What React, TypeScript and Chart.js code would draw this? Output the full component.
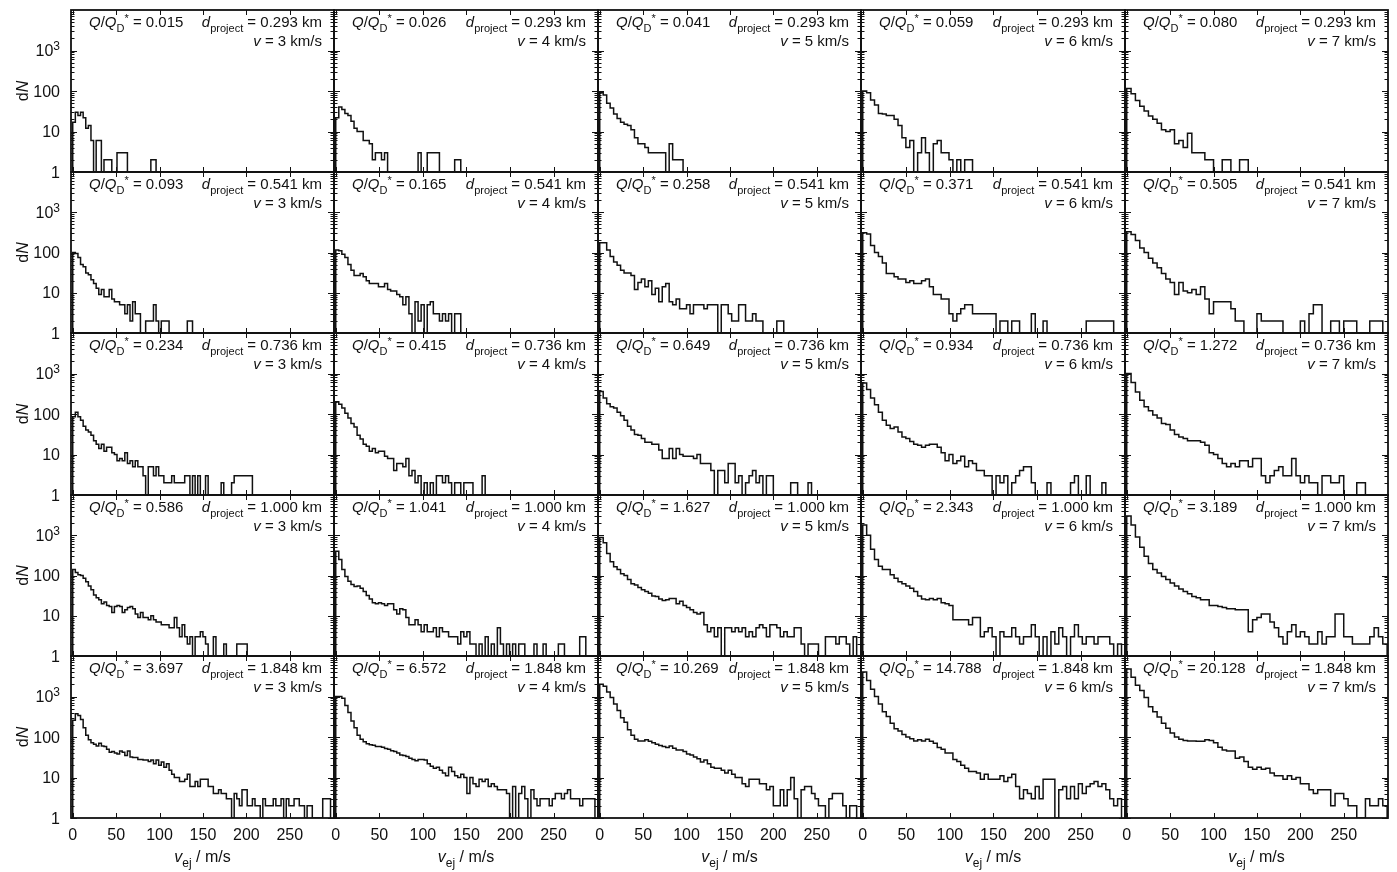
import React, { useEffect, useRef } from 'react';
import { Chart, registerables } from 'chart.js';

Chart.register(...registerables);

// ---- Ejecta velocity histograms: counts per velocity bin (first bin starts at 0 m/s) ----
// Row: projectile diameter, column: impact speed.
const IMPACT_SPEEDS = [3, 4, 5, 6, 7]; // km/s
const PROJECTILE_DIAMETERS = [0.293, 0.541, 0.736, 1.0, 1.848]; // km
const Q_RATIOS = [
  [0.015, 0.026, 0.041, 0.059, 0.08],
  [0.093, 0.165, 0.258, 0.371, 0.505],
  [0.234, 0.415, 0.649, 0.934, 1.272],
  [0.586, 1.041, 1.627, 2.343, 3.189],
  [3.697, 6.572, 10.269, 14.788, 20.128],
];
const BIN_WIDTHS = [3, 3.5, 4, 4.5, 5]; // m/s, per impact speed
const X_TICKS = [0, 50, 100, 150, 200, 250];
const Y_LABEL_TICKS = [1, 10, 100, 1000];
const X_MIN = -2;
const X_MAX = 301;
const Y_MIN = 1;
const Y_MAX = 10000;

// d = 0.293 km
const dN_d0293_v3 = [17, 30, 25, 30, 22, 12, 14, 6, 1, 6, 6, 1, 2, 2, 2, 1, 1, 3, 3, 3, 3, 1, 1, 1, 1, 1, 1, 1, 1, 1, 2, 2];
const dN_d0293_v4 = [22, 40, 35, 28, 25, 18, 12, 10, 10, 6, 6, 5, 2, 3, 3, 2, 3, 1, 1, 1, 1, 1, 1, 1, 1, 1, 1, 3, 1, 1, 3, 3, 3, 3, 1, 1, 1, 1, 1, 2, 2];
const dN_d0293_v5 = [90, 80, 50, 38, 27, 21, 17, 15, 14, 11, 7, 5, 5, 4, 3, 3, 3, 3, 3, 1, 5, 2, 2, 2];
const dN_d0293_v6 = [100, 90, 60, 45, 28, 27, 25, 25, 20, 14, 7, 4, 6, 1, 3, 7, 3, 1, 5, 6, 3, 3, 2, 1, 2, 1, 2, 2];
const dN_d0293_v7 = [115, 85, 58, 42, 32, 24, 20, 16, 11, 10, 11, 5, 6, 4, 9, 3, 3, 3, 2, 2, 1, 1, 2, 2, 1, 1, 2, 2];

// d = 0.541 km
const dN_d0541_v3 = [100, 95, 75, 50, 44, 31, 28, 21, 17, 13, 9, 12, 8, 8, 12, 7, 6, 6, 5, 5, 3, 5, 2, 6, 3, 3, 1, 1, 2, 2, 2, 5, 2, 1, 2, 2, 2, 1, 1, 1, 1, 1, 1, 1, 2, 2];
const dN_d0541_v4 = [115, 110, 90, 75, 50, 36, 27, 27, 30, 25, 20, 17, 17, 17, 14, 14, 17, 12, 11, 11, 9, 8, 5, 8, 3, 1, 6, 2, 5, 1, 5, 6, 3, 3, 2, 3, 2, 3, 1, 3, 3];
const dN_d0541_v5 = [175, 175, 115, 80, 58, 48, 36, 31, 31, 27, 12, 18, 22, 14, 20, 9, 13, 6, 14, 17, 6, 5, 7, 4, 4, 5, 3, 5, 5, 5, 4, 5, 5, 5, 1, 5, 5, 3, 2, 2, 5, 5, 2, 2, 3, 2, 2, 1, 1, 1, 1, 2, 2];
const dN_d0541_v6 = [310, 290, 150, 100, 80, 55, 30, 30, 25, 22, 22, 18, 20, 17, 17, 20, 22, 14, 9, 9, 7, 7, 3, 2, 3, 4, 5, 5, 3, 3, 3, 3, 3, 3, 1, 2, 2, 1, 2, 2, 1, 1, 1, 3, 1, 1, 2, 1, 1, 1, 1, 1, 1, 1, 1, 1, 1, 2, 2, 2, 2, 2, 2, 2];
const dN_d0541_v7 = [330, 280, 200, 130, 100, 72, 55, 42, 30, 22, 18, 9, 18, 11, 10, 12, 9, 14, 7, 3, 6, 6, 6, 6, 4, 2, 2, 1, 1, 1, 3, 2, 2, 2, 2, 2, 1, 1, 1, 1, 2, 1, 3, 5, 5, 1, 1, 2, 2, 1, 2, 2, 2, 1, 1, 1, 2, 2, 2];

// d = 0.736 km
const dN_d0736_v3 = [85, 110, 85, 70, 50, 40, 36, 30, 22, 18, 14, 18, 12, 15, 15, 11, 10, 7, 8, 7, 11, 6, 7, 5, 7, 5, 5, 3, 1, 5, 5, 3, 5, 3, 3, 2, 2, 2, 3, 2, 2, 2, 2, 3, 3, 1, 3, 1, 3, 1, 1, 3, 1, 1, 1, 1, 1, 2, 1, 1, 1, 2, 3, 3, 3, 3, 3, 3, 3];
const dN_d0736_v4 = [200, 175, 140, 105, 80, 58, 48, 30, 24, 18, 16, 12, 14, 11, 12, 12, 9, 8, 8, 4, 6, 6, 5, 8, 3, 4, 2, 3, 1, 2, 1, 2, 1, 3, 3, 2, 3, 2, 1, 2, 2, 1, 2, 2, 2, 1, 1, 1, 3];
const dN_d0736_v5 = [360, 250, 180, 150, 140, 110, 90, 70, 50, 40, 31, 30, 25, 20, 20, 18, 18, 13, 8, 8, 14, 8, 14, 10, 9, 9, 9, 8, 10, 6, 6, 6, 4, 1, 4, 4, 2, 6, 6, 2, 3, 1, 2, 3, 4, 2, 3, 1, 3, 3, 1, 1, 1, 1, 1, 2, 2, 1, 1, 1, 2];
const dN_d0736_v6 = [580, 400, 250, 170, 110, 70, 53, 44, 48, 36, 27, 25, 21, 18, 17, 15, 17, 18, 18, 15, 11, 7, 10, 6, 7, 9, 5, 7, 6, 4, 4, 3, 3, 1, 3, 2, 3, 1, 2, 3, 4, 5, 5, 2, 1, 1, 1, 2, 1, 1, 1, 1, 1, 2, 3, 1, 1, 3, 1, 1, 1, 2];
const dN_d0736_v7 = [1000, 600, 350, 220, 150, 120, 95, 80, 58, 55, 40, 31, 27, 25, 22, 22, 22, 20, 17, 11, 10, 8, 6, 5, 6, 5, 7, 7, 5, 8, 8, 3, 2, 3, 4, 5, 3, 3, 8, 3, 2, 3, 2, 2, 1, 3, 3, 2, 2, 3, 1, 1, 1, 2, 2];

// d = 1.000 km
const dN_d1000_v3 = [140, 118, 105, 100, 85, 70, 55, 44, 33, 28, 25, 20, 22, 18, 17, 12, 17, 18, 17, 12, 14, 16, 17, 15, 11, 9, 12, 9, 9, 8, 10, 8, 7, 7, 6, 6, 6, 5, 5, 9, 5, 3, 6, 3, 2, 3, 1, 3, 3, 4, 3, 2, 1, 1, 3, 1, 1, 1, 2, 1, 1, 1, 1, 2, 2, 2, 2];
const dN_d1000_v4 = [400, 250, 140, 95, 72, 60, 53, 55, 48, 40, 32, 26, 21, 20, 21, 20, 18, 20, 20, 14, 11, 15, 14, 9, 6, 6, 8, 6, 4, 6, 4, 4, 5, 3, 5, 4, 4, 3, 3, 3, 2, 4, 3, 4, 2, 2, 1, 2, 1, 3, 1, 2, 1, 5, 2, 1, 2, 1, 2, 1, 2, 2, 1, 1, 1, 2, 1, 1, 2, 1, 1, 1, 1, 2, 2, 1, 1, 1, 1, 1, 3, 3];
const dN_d1000_v5 = [880, 650, 350, 220, 165, 140, 110, 100, 80, 62, 58, 50, 44, 40, 36, 31, 30, 26, 24, 25, 27, 27, 20, 23, 18, 16, 14, 12, 11, 12, 6, 4, 5, 3, 5, 1, 5, 5, 4, 5, 4, 5, 3, 4, 3, 5, 6, 5, 3, 6, 6, 5, 3, 4, 3, 3, 5, 5, 2, 1, 2, 2, 2, 1, 1, 3, 3, 3, 2, 3, 3, 2, 1, 3];
const dN_d1000_v6 = [1800, 1000, 450, 250, 170, 140, 140, 105, 85, 70, 62, 55, 48, 40, 31, 26, 25, 27, 25, 27, 21, 20, 18, 8, 8, 8, 8, 6, 9, 9, 3, 4, 5, 3, 1, 4, 3, 3, 5, 3, 2, 3, 3, 6, 3, 1, 3, 1, 4, 2, 5, 3, 1, 3, 6, 3, 2, 3, 3, 2, 3, 3, 3, 2, 1, 2];
const dN_d1000_v7 = [3000, 1800, 900, 500, 300, 200, 140, 115, 95, 80, 65, 55, 46, 40, 35, 30, 28, 25, 25, 18, 18, 17, 16, 15, 15, 14, 14, 14, 4, 8, 9, 11, 11, 7, 5, 3, 2, 4, 6, 3, 4, 3, 2, 2, 4, 2, 3, 3, 11, 11, 3, 3, 2, 2, 2, 2, 3, 5, 3, 2];

// d = 1.848 km
const dN_d1848_v3 = [260, 375, 340, 270, 170, 110, 85, 72, 66, 60, 70, 60, 58, 50, 42, 44, 40, 38, 45, 42, 35, 45, 32, 31, 31, 28, 28, 27, 27, 25, 27, 22, 27, 20, 24, 18, 22, 15, 12, 10, 10, 8, 8, 9, 12, 6, 6, 8, 6, 9, 9, 9, 6, 6, 4, 4, 5, 4, 4, 3, 3, 1, 4, 3, 2, 5, 5, 2, 2, 3, 2, 2, 1, 3, 2, 2, 2, 3, 2, 2, 3, 1, 3, 2, 2, 3, 3, 2, 2, 1, 2, 2, 1, 1, 1, 1, 3, 3, 3];
const dN_d1848_v4 = [1000, 1000, 900, 600, 400, 250, 170, 110, 88, 76, 68, 64, 63, 58, 58, 56, 52, 50, 46, 44, 40, 36, 35, 33, 30, 28, 26, 28, 28, 27, 22, 19, 17, 18, 15, 13, 11, 18, 14, 11, 10, 12, 10, 4, 10, 7, 6, 9, 8, 9, 6, 7, 6, 5, 5, 5, 4, 1, 6, 1, 4, 6, 3, 1, 5, 3, 2, 3, 3, 3, 2, 3, 4, 4, 3, 4, 5, 3, 3, 3, 2, 3, 3, 3, 3];
const dN_d1848_v5 = [2000, 1800, 1300, 950, 650, 450, 300, 230, 150, 110, 88, 80, 80, 85, 78, 72, 66, 62, 58, 55, 60, 53, 48, 48, 44, 38, 36, 32, 29, 24, 27, 22, 18, 17, 17, 15, 13, 15, 12, 10, 10, 7, 6, 9, 9, 9, 7, 7, 5, 6, 2, 2, 5, 2, 5, 10, 3, 1, 5, 6, 6, 4, 3, 2, 2, 1, 3, 4, 4, 4, 2, 1, 2, 2];
const dN_d1848_v6 = [4000, 2500, 1500, 1000, 650, 420, 320, 220, 160, 140, 115, 100, 90, 80, 85, 80, 88, 78, 70, 55, 50, 40, 40, 28, 25, 20, 17, 14, 14, 13, 9, 12, 9, 9, 9, 11, 8, 10, 12, 6, 3, 5, 4, 3, 6, 3, 9, 9, 9, 1, 5, 6, 3, 6, 3, 7, 4, 6, 7, 8, 6, 7, 5, 3, 2, 3];
const dN_d1848_v7 = [4800, 3000, 1900, 1400, 950, 560, 420, 310, 220, 165, 125, 100, 88, 82, 80, 80, 78, 78, 85, 82, 72, 56, 48, 45, 45, 30, 32, 25, 18, 16, 18, 16, 17, 13, 11, 11, 9, 11, 9, 10, 7, 7, 5, 4, 5, 5, 5, 2, 4, 4, 3, 2, 2, 1, 1, 3, 2, 2, 3, 2];

const COUNTS: number[][][] = [
  [dN_d0293_v3, dN_d0293_v4, dN_d0293_v5, dN_d0293_v6, dN_d0293_v7],
  [dN_d0541_v3, dN_d0541_v4, dN_d0541_v5, dN_d0541_v6, dN_d0541_v7],
  [dN_d0736_v3, dN_d0736_v4, dN_d0736_v5, dN_d0736_v6, dN_d0736_v7],
  [dN_d1000_v3, dN_d1000_v4, dN_d1000_v5, dN_d1000_v6, dN_d1000_v7],
  [dN_d1848_v3, dN_d1848_v4, dN_d1848_v5, dN_d1848_v6, dN_d1848_v7],
];

// ---- page layout (px) ----
const COL_EDGES = [71, 334, 598, 861, 1125, 1388];
const ROW_EDGES = [10, 172, 333, 495, 656, 818];
const PAD = { left: 70, top: 10, right: 8, bottom: 52 };
const FONT = '"Liberation Sans", Arial, Helvetica, sans-serif';
const INK = '#111';

type Run = { t: string; it?: boolean; sub?: boolean; sup?: boolean };

function drawRuns(
  ctx: CanvasRenderingContext2D,
  runs: Run[],
  x: number,
  y: number,
  align: 'left' | 'right' | 'center',
  size: number,
) {
  const small = Math.round(size * 0.72);
  const fontOf = (r: Run) => `${r.it ? 'italic ' : ''}${r.sub || r.sup ? small : size}px ${FONT}`;
  let total = 0;
  for (const r of runs) {
    ctx.font = fontOf(r);
    total += ctx.measureText(r.t).width;
  }
  let cx = align === 'left' ? x : align === 'right' ? x - total : x - total / 2;
  ctx.textAlign = 'left';
  ctx.textBaseline = 'alphabetic';
  for (const r of runs) {
    ctx.font = fontOf(r);
    const dy = r.sub ? size * 0.3 : r.sup ? -size * 0.36 : 0;
    ctx.fillText(r.t, cx, y + dy);
    cx += ctx.measureText(r.t).width;
  }
}

function histogramPoints(counts: number[], bin: number) {
  const pts = [{ x: 0, y: Y_MIN }];
  counts.forEach((n, i) => pts.push({ x: i * bin, y: Math.max(n, Y_MIN) }));
  pts.push({ x: counts.length * bin, y: Y_MIN });
  return pts;
}

function decorPlugin(row: number, col: number) {
  return {
    id: `decor-${row}-${col}`,
    afterDatasetsDraw(chart: any) {
      const { ctx, chartArea: a, scales } = chart;
      const xs = scales.x;
      const ys = scales.y;
      ctx.save();
      ctx.strokeStyle = INK;
      ctx.fillStyle = INK;

      // inward log ticks on left and right edges
      ctx.lineWidth = 1;
      ctx.beginPath();
      for (let d = 0; d < 4; d++) {
        for (let m = 1; m <= 9; m++) {
          const y = Math.round(ys.getPixelForValue(m * Math.pow(10, d))) + 0.5;
          const len = m === 1 ? 6 : 3.5;
          ctx.moveTo(a.left, y);
          ctx.lineTo(a.left + len, y);
          ctx.moveTo(a.right, y);
          ctx.lineTo(a.right - len, y);
        }
      }
      // inward ticks on top and bottom edges
      for (const v of X_TICKS) {
        const x = Math.round(xs.getPixelForValue(v)) + 0.5;
        ctx.moveTo(x, a.bottom);
        ctx.lineTo(x, a.bottom - 5);
        ctx.moveTo(x, a.top);
        ctx.lineTo(x, a.top + 5);
      }
      ctx.stroke();

      // panel frame
      ctx.lineWidth = 1.8;
      ctx.strokeRect(a.left, a.top, a.right - a.left, a.bottom - a.top);

      // annotations
      const q = Q_RATIOS[row][col].toFixed(3);
      const dp = PROJECTILE_DIAMETERS[row].toFixed(3);
      const v = IMPACT_SPEEDS[col];
      drawRuns(
        ctx,
        [{ t: 'Q', it: true }, { t: '/' }, { t: 'Q', it: true }, { t: 'D', sub: true }, { t: '*', sup: true }, { t: ` = ${q}` }],
        a.left + 18,
        a.top + 17,
        'left',
        15,
      );
      drawRuns(ctx, [{ t: 'd', it: true }, { t: 'project', sub: true }, { t: ` = ${dp} km` }], a.right - 12, a.top + 17, 'right', 15);
      drawRuns(ctx, [{ t: 'v', it: true }, { t: ` = ${v} km/s` }], a.right - 12, a.top + 36, 'right', 15);

      // y tick labels and axis title (first column)
      if (col === 0) {
        for (const t of Y_LABEL_TICKS) {
          const y = ys.getPixelForValue(t) + 5.5;
          const runs: Run[] = t >= 1000 ? [{ t: '10' }, { t: String(Math.round(Math.log10(t))), sup: true }] : [{ t: String(t) }];
          drawRuns(ctx, runs, a.left - 11, y, 'right', 16);
        }
        ctx.save();
        ctx.translate(a.left - 43, (a.top + a.bottom) / 2);
        ctx.rotate(-Math.PI / 2);
        drawRuns(ctx, [{ t: 'd' }, { t: 'N', it: true }], 0, 0, 'center', 16);
        ctx.restore();
      }

      // x tick labels and axis title (bottom row)
      if (row === 4) {
        for (const t of X_TICKS) {
          drawRuns(ctx, [{ t: String(t) }], xs.getPixelForValue(t), a.bottom + 22, 'center', 16);
        }
        drawRuns(ctx, [{ t: 'v', it: true }, { t: 'ej', sub: true }, { t: ' / m/s' }], (a.left + a.right) / 2, a.bottom + 44, 'center', 16);
      }
      ctx.restore();
    },
  };
}

function Panel({ row, col }: { row: number; col: number }) {
  const ref = useRef<HTMLCanvasElement>(null);
  const left = COL_EDGES[col];
  const top = ROW_EDGES[row];
  const width = COL_EDGES[col + 1] - left + PAD.left + PAD.right;
  const height = ROW_EDGES[row + 1] - top + PAD.top + PAD.bottom;

  useEffect(() => {
    const chart = new Chart(ref.current as HTMLCanvasElement, {
      type: 'line',
      data: {
        datasets: [
          {
            data: histogramPoints(COUNTS[row][col], BIN_WIDTHS[col]),
            stepped: true,
            borderColor: INK,
            borderWidth: 1.5,
            pointRadius: 0,
            fill: false,
          } as any,
        ],
      },
      options: {
        animation: false,
        responsive: false,
        devicePixelRatio: 1,
        events: [],
        layout: { padding: PAD },
        plugins: { legend: { display: false }, tooltip: { enabled: false } },
        scales: {
          x: { type: 'linear', min: X_MIN, max: X_MAX, display: false },
          y: { type: 'logarithmic', min: Y_MIN, max: Y_MAX, display: false },
        },
      },
      plugins: [decorPlugin(row, col)],
    });
    return () => chart.destroy();
  }, [row, col]);

  return (
    <canvas
      ref={ref}
      width={width}
      height={height}
      style={{ position: 'absolute', left: left - PAD.left, top: top - PAD.top, width, height }}
    />
  );
}

export default function App() {
  const cells: React.ReactElement[] = [];
  for (let r = 0; r < 5; r++) {
    for (let c = 0; c < 5; c++) {
      cells.push(<Panel key={`${r}-${c}`} row={r} col={c} />);
    }
  }
  return (
    <div
      style={{
        position: 'absolute',
        left: 0,
        top: 0,
        width: 1397,
        height: 872,
        overflow: 'hidden',
        background: '#fff',
      }}
    >
      {cells}
    </div>
  );
}
